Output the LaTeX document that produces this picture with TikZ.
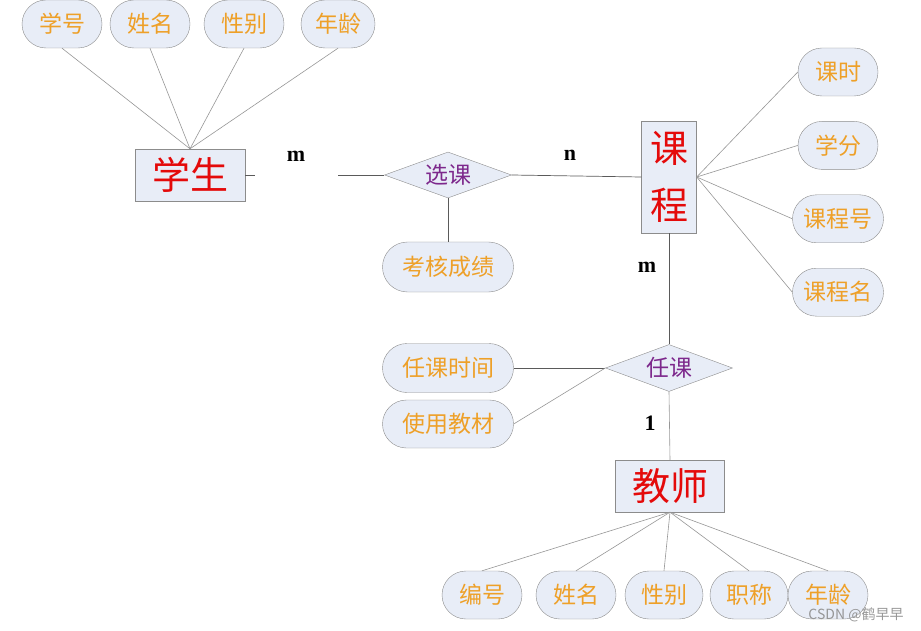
\documentclass[tikz,border=0pt]{standalone}
\usepackage{fontspec}
\setmainfont{Noto Sans CJK SC}
\newfontfamily\cardfont{Liberation Serif}
\usetikzlibrary{
  shapes.geometric,
  shapes.misc,
  positioning
}
\definecolor{boxfill}{RGB}{232,237,247}
\definecolor{bordergray}{RGB}{140,140,140}
\definecolor{attrorange}{RGB}{238,160,40}
\definecolor{entityred}{RGB}{228,10,10}
\definecolor{relpurple}{RGB}{125,40,140}
\definecolor{linkgray}{RGB}{150,150,150}
\definecolor{relline}{RGB}{90,90,90}
\tikzset{
  attr/.style={
    rounded rectangle,
    draw=bordergray,
    fill=boxfill,
    text=attrorange,
    font=\fontsize{23}{25}\selectfont,
    minimum width=80pt,
    minimum height=48pt,
    inner sep=0pt
  },
  wideattr/.style={
    attr,
    minimum width=91pt
  },
  longattr/.style={
    attr,
    minimum width=131pt,
    minimum height=49pt
  },
  entity/.style={
    rectangle,
    draw=bordergray,
    fill=boxfill,
    text=entityred,
    font=\fontsize{38}{57}\selectfont,
    align=center,
    inner sep=0pt
  },
  relation/.style={
    diamond,
    draw=bordergray,
    fill=boxfill,
    text=relpurple,
    font=\fontsize{23}{25}\selectfont,
    aspect=2.7,
    inner sep=0pt,
    minimum width=127pt,
    minimum height=46pt
  },
  attrlink/.style={
    draw=linkgray,
    line width=0.6pt
  },
  rellink/.style={
    draw=relline,
    line width=0.7pt
  },
  card/.style={
    font=\cardfont\bfseries\fontsize{22}{24}\selectfont
  }
}

\begin{document}
\begin{tikzpicture}[x=1pt, y=-1pt]
\useasboundingbox (0,0) rectangle (921,631);

% Student entity and its attributes.
\node[entity, minimum width=110pt, minimum height=52pt] (student) at (190,175) {学生};
\node[attr] (sno) at (62,24) {学号};
\node[attr] (sname) at (150,24) {姓名};
\node[attr] (ssex) at (244,24) {性别};
\node[attr, minimum width=74pt] (sage) at (338,24) {年龄};

% Course entity and its attributes.
\node[entity, minimum width=55pt, minimum height=112pt] (course) at (669,177) {课\\程};
\node[attr] (chours) at (838,72) {课时};
\node[attr, below=25pt of chours] (ccredit) {学分};
\node[wideattr, below=25pt of ccredit] (cno) {课程号};
\node[wideattr, below=25pt of cno] (cname) {课程名};

% Selection relation.
\node[relation] (select) at (448,175) {选课};
\node[longattr, minimum height=50pt] (grade) at (448,267) {考核成绩};

% Teaching relation.
\node[relation, minimum height=47pt] (teach) at (669,368) {任课};
\node[longattr] (ttime) at (448,368) {任课时间};
\node[longattr, minimum height=48pt] (tbook) at (448,424) {使用教材};

% Teacher entity and its attributes.
\node[entity, minimum width=109pt, minimum height=52pt] (teacher) at (670,486) {教师};
\node[attr] (tno) at (482,595) {编号};
\node[attr] (tname) at (576,595) {姓名};
\node[attr, minimum width=78pt] (tsex) at (664,595) {性别};
\node[attr, minimum width=78pt] (ttitle) at (749,595) {职称};
\node[attr] (tage) at (828,595) {年龄};

% Attribute links.
\foreach \a in {sno,sname,ssex,sage}
  \draw[attrlink] (\a.south) -- (student.north);
\foreach \a in {chours,ccredit,cno,cname}
  \draw[attrlink] (course.east) -- (\a.west);
\foreach \a in {tno,tname,tsex,ttitle,tage}
  \draw[attrlink] (teacher.south) -- (\a.north);

% Relation links.
\draw[rellink] (student.east) -- (select.west);
\draw[rellink] (select.east) -- (course.west);
\draw[rellink] (select.south) -- (grade.north);
\draw[rellink] (course.south) -- (teach.north);
\draw[rellink] (ttime.east) -- (teach.west);
\draw[attrlink] (tbook.east) -- (teach.west);
\draw[attrlink] (teach.south) -- (teacher.north);

% Cardinalities.
\node[card, fill=white, minimum width=83pt, text depth=14pt, inner ysep=2pt, anchor=base] (cardsm) at (296,162) {m};
\node[card] (cardcn) at (570,155) {n};
\node[card] (cardcm) at (647,267) {m};
\node[card] (cardt1) at (650,423) {1};

% Watermark.
\node[text=linkgray, font=\fontsize{14}{16}\selectfont, inner sep=0pt] (mark) at (856,615) {CSDN @鹤早早};

\end{tikzpicture}
\end{document}
